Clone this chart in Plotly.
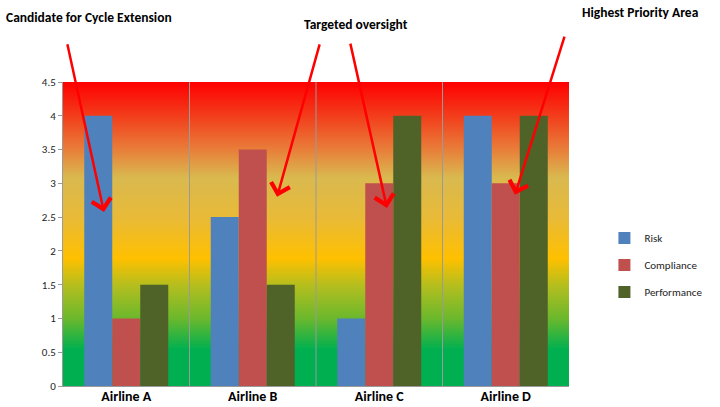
import plotly.graph_objects as go

categories = ["Airline A", "Airline B", "Airline C", "Airline D"]
risk = [4, 2.5, 1, 4]
compliance = [1, 3.5, 3, 3]
performance = [1.5, 1.5, 4, 4]
y_ticks = [0, 0.5, 1, 1.5, 2, 2.5, 3, 3.5, 4, 4.5]
y_tick_labels = ["0", "0.5", "1", "1.5", "2", "2.5", "3", "3.5", "4", "4.5"]

# background gradient stops (value -> colour), bottom green to top red
grad_levels = [0, 0.55, 1.0, 1.5, 1.9, 2.5, 3.1, 3.5, 4.0, 4.5]
grad_colors = ["#00B050", "#00B050", "#6BB82D", "#B4BE1E", "#FFC000",
               "#E8BA38", "#D9B94F", "#E8803A", "#F23E1C", "#FF0000"]

xpos = list(range(len(categories)))
colorscale = [[lv / 4.5, c] for lv, c in zip(grad_levels, grad_colors)]

fig = go.Figure()
fig.add_trace(go.Heatmap(
    x=[-0.5, 3.5], y=grad_levels,
    z=[[lv, lv] for lv in grad_levels],
    zmin=0, zmax=4.5, colorscale=colorscale, zsmooth="best",
    showscale=False, hoverinfo="skip",
))

series = [("Risk", risk, "#4F81BD"), ("Compliance", compliance, "#C0504D"),
          ("Performance", performance, "#4F6228")]
for name, vals, col in series:
    fig.add_trace(go.Bar(x=xpos, y=vals, name=name, marker_color=col,
                         marker_line_width=0, legendgroup=name))

shapes = [dict(type="line", xref="x", yref="y", x0=i + 0.5, x1=i + 0.5, y0=0, y1=4.5,
               line=dict(color="#9A9A9A", width=1)) for i in range(len(categories) - 1)]

title_font = dict(family="Carlito, Lato, sans-serif", size=13.5, color="black")
annotations = [
    dict(text="<b>Candidate for Cycle Extension</b>", xref="paper", yref="paper",
         x=0.051, y=1.211, xanchor="center", yanchor="middle", showarrow=False, font=title_font),
    dict(text="<b>Targeted oversight</b>", xref="paper", yref="paper",
         x=0.579, y=1.188, xanchor="center", yanchor="middle", showarrow=False, font=title_font),
    dict(text="<b>Highest Priority Area</b>", xref="paper", yref="paper",
         x=1.140, y=1.230, xanchor="center", yanchor="middle", showarrow=False, font=title_font),
]
arrows = [(-0.468, 5.08, -0.176, 2.575), (1.532, 5.08, 1.192, 2.80),
          (1.769, 5.09, 2.061, 2.635), (3.468, 5.195, 3.073, 2.83)]
for ax, ay, hx, hy in arrows:
    annotations.append(dict(text="", x=hx, y=hy, xref="x", yref="y",
                            ax=ax, ay=ay, axref="x", ayref="y",
                            showarrow=True, arrowhead=4, arrowsize=1.5,
                            arrowwidth=2.5, arrowcolor="#FF0000"))

fig.update_layout(
    width=720, height=407,
    margin=dict(l=63, r=151, t=82, b=21, autoexpand=False),
    paper_bgcolor="white", plot_bgcolor="white",
    barmode="group", bargap=0.336, bargroupgap=0,
    showlegend=True,
    legend=dict(x=1.07, y=0.398, xanchor="left", yanchor="middle",
                font=dict(family="Carlito, Lato, sans-serif", size=11, color="#222"),
                traceorder="grouped", tracegroupgap=8, itemwidth=30,
                bgcolor="rgba(0,0,0,0)"),
    xaxis=dict(range=[-0.5, 3.5], tickmode="array", tickvals=xpos,
               ticktext=["<b>%s</b>" % c for c in categories],
               tickfont=dict(family="Carlito, Lato, sans-serif", size=14, color="black"),
               showgrid=False, zeroline=False, showline=True, linecolor="#9A9A9A",
               ticks="", ticklen=0, ticklabelstandoff=-3),
    yaxis=dict(range=[0, 4.5], tickmode="array", tickvals=y_ticks, ticktext=y_tick_labels,
               tickfont=dict(family="Carlito, Lato, sans-serif", size=11, color="#222"),
               showgrid=False, zeroline=False, showline=True, linecolor="#9A9A9A",
               ticks="outside", ticklen=4, tickcolor="#9A9A9A"),
    shapes=shapes, annotations=annotations,
)
fig.write_html("out.html", config={"displayModeBar": False},
               post_script="document.body.style.margin='0';document.body.style.padding='0';")
